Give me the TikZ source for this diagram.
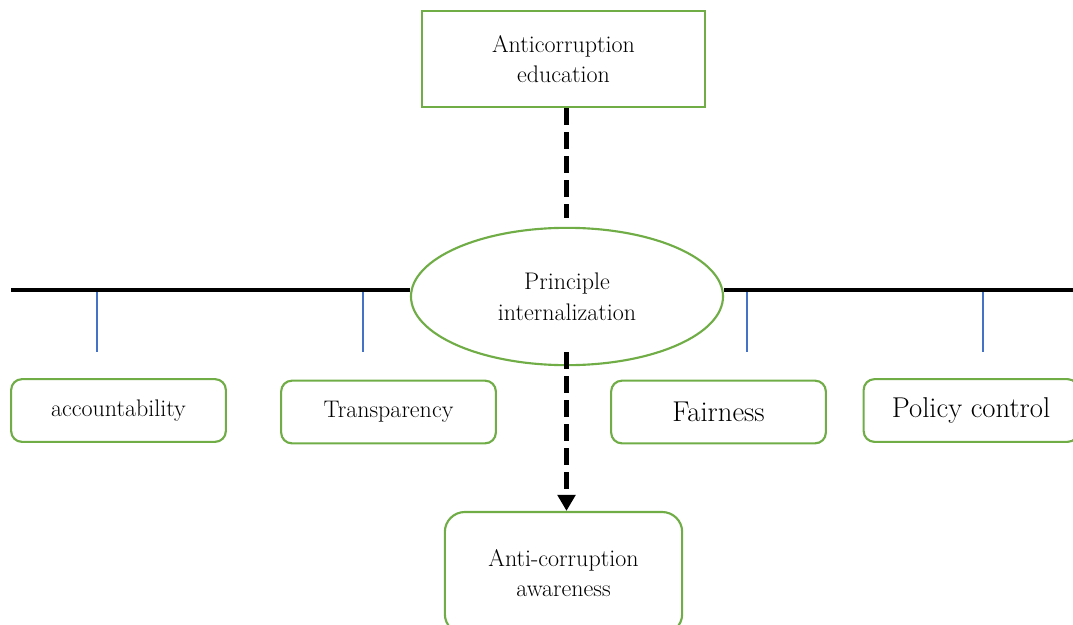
\documentclass[tikz,border=0pt]{standalone}
\usepackage{tikz}
\usetikzlibrary{shapes.geometric,arrows.meta}
\definecolor{boxgreen}{HTML}{70AD47}
\definecolor{tickblue}{HTML}{4472C4}
\tikzset{
    square-box/.style = {draw=boxgreen, line width=1.6pt, fill=white, rectangle, align=center, minimum width=212pt, minimum height=72pt, font=\fontsize{18}{23}\selectfont},
    round-box/.style = {draw=boxgreen, line width=1.6pt, fill=white, rectangle, rounded corners=8pt, align=center, minimum width=161pt, minimum height=47pt, font=\fontsize{18}{23}\selectfont},
    big-text/.style = {font=\fontsize{21.5}{23}\selectfont},
    principle-ellipse/.style = {draw=boxgreen, line width=1.6pt, fill=white, ellipse, inner sep=0pt, align=center, minimum width=234pt, minimum height=103pt, font=\fontsize{18}{23}\selectfont},
    main-line/.style = {line width=3pt},
    blue-tick/.style = {draw=tickblue, line width=0.8pt},
    dash-link/.style = {line width=3.5pt, dash pattern=on 13pt off 5pt},
}

\begin{document}
\begin{tikzpicture}[x=0.75pt, y=-0.75pt]
\useasboundingbox (0,0) rectangle (1073,624);

% horizontal axis and ticks
\coordinate (lend) at (11,290);
\coordinate (rend) at (1073,290);
\foreach \x in {97,363,747,983}
    \draw[blue-tick] (\x,290) -- (\x,352);

\node[principle-ellipse] (ell) at (567,296.5) {Principle\\internalization};
\draw[main-line] (lend) -- (lend -| ell.west);
\draw[main-line] (rend -| ell.east) -- (rend);

\node[square-box] (edu) at (563.5,59) {Anticorruption\\education};
\node[round-box] (acc) at (118.5,410.5) {accountability};
\node[round-box] (tra) at (388.5,412) {Transparency};
\node[round-box, big-text] (fai) at (718.5,412) {Fairness};
\node[round-box, big-text] (pol) at (971,410.5) {Policy control};
\node[round-box, rounded corners=15pt, minimum width=178pt, minimum height=91.5pt] (aw) at (563.5,573) {Anti-corruption\\awareness};

% dashed links
\coordinate (dtop) at (566.5,218);
\coordinate (dstart) at (566.5,352);
\draw[dash-link] (dtop |- edu.south) -- (dtop);
\draw[dash-link, -{Triangle[length=12pt,width=13pt]}] (dstart) -- (dstart |- aw.north);
\end{tikzpicture}
\end{document}
